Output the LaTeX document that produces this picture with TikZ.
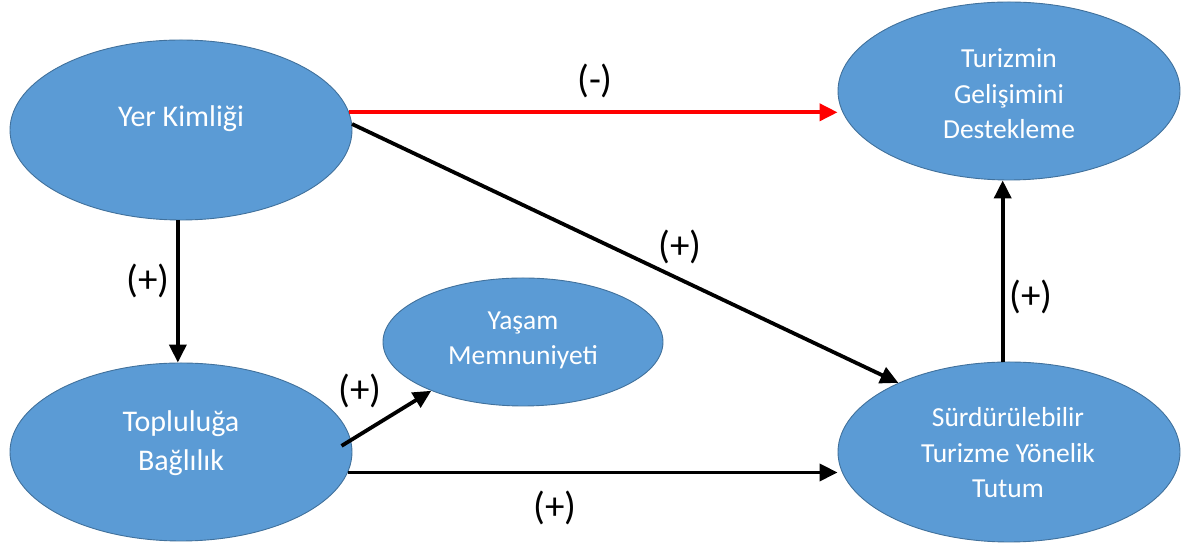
\documentclass[tikz,border=0pt]{standalone}
\usepackage{fontspec}
\setmainfont{Carlito}
\usetikzlibrary{arrows.meta,shapes.geometric}
\definecolor{ellfill}{HTML}{5B9BD5}
\definecolor{elldraw}{HTML}{41719C}
\tikzset{
  ell/.style={ellipse, draw=elldraw, line width=0.9pt, fill=ellfill, inner sep=0pt},
  txtbig/.style={text=white, align=center, anchor=base, font=\fontsize{30}{39}\selectfont},
  txtsmall/.style={text=white, align=center, anchor=base, font=\fontsize{27.5}{35.5}\selectfont},
  lbl/.style={text=black, font=\fontsize{39}{45}\selectfont, inner sep=0pt},
  arr/.style={line width=3.8pt, -{Triangle[length=18pt,width=17pt]}},
  redarr/.style={arr, draw=red}
}
\begin{document}
\begin{tikzpicture}[x=1pt,y=1pt]
\useasboundingbox (0,0) rectangle (1187,545);
% ellipses
\node[ell, minimum width=342pt, minimum height=180pt] (yk) at (181,415) {};
\node[ell, minimum width=342pt, minimum height=178pt] (tb) at (181,93) {};
\node[ell, minimum width=280pt, minimum height=128pt] (ym) at (523,203) {};
\node[ell, minimum width=342pt, minimum height=178pt] (ts) at (1009,454) {};
\node[ell, minimum width=342pt, minimum height=180pt] (su) at (1009,93) {};
% texts (anchor base = baseline of last line)
\node[txtbig] (ykt) at (181,418) {Yer Kimliği};
\node[txtbig] (tbt) at (181,74) {Topluluğa\\Bağlılık};
\node[txtsmall] (ymt) at (523,180) {Yaşam\\Memnuniyeti};
\node[txtsmall] (tst) at (1009,406) {Turizmin\\Gelişimini\\Destekleme};
\node[txtsmall] (sut) at (1008,47) {Sürdürülebilir\\Turizme Yönelik\\Tutum};
% connectors
\draw[redarr] (yk.6) -- (ts.west |- yk.6);
\draw[arr] (yk.2) -- (su.148);
\draw[arr] (yk.268) -- (yk.268 |- tb.north);
\draw[arr, shorten <=-11pt] (tb.4) -- (ym.208);
\draw[arr] (tb.353) -- (su.west |- tb.353);
\draw[arr] (su.94) -- (su.94 |- ts.south);
% labels
\node[lbl] (l1) at (595,464) {(-)};
\node[lbl] (l2) at (148,264) {(+)};
\node[lbl] (l3) at (680,298) {(+)};
\node[lbl] (l4) at (1031,248) {(+)};
\node[lbl] (l5) at (555,37) {(+)};
\node[lbl] (l6) at (360,154) {(+)};
\end{tikzpicture}
\end{document}
